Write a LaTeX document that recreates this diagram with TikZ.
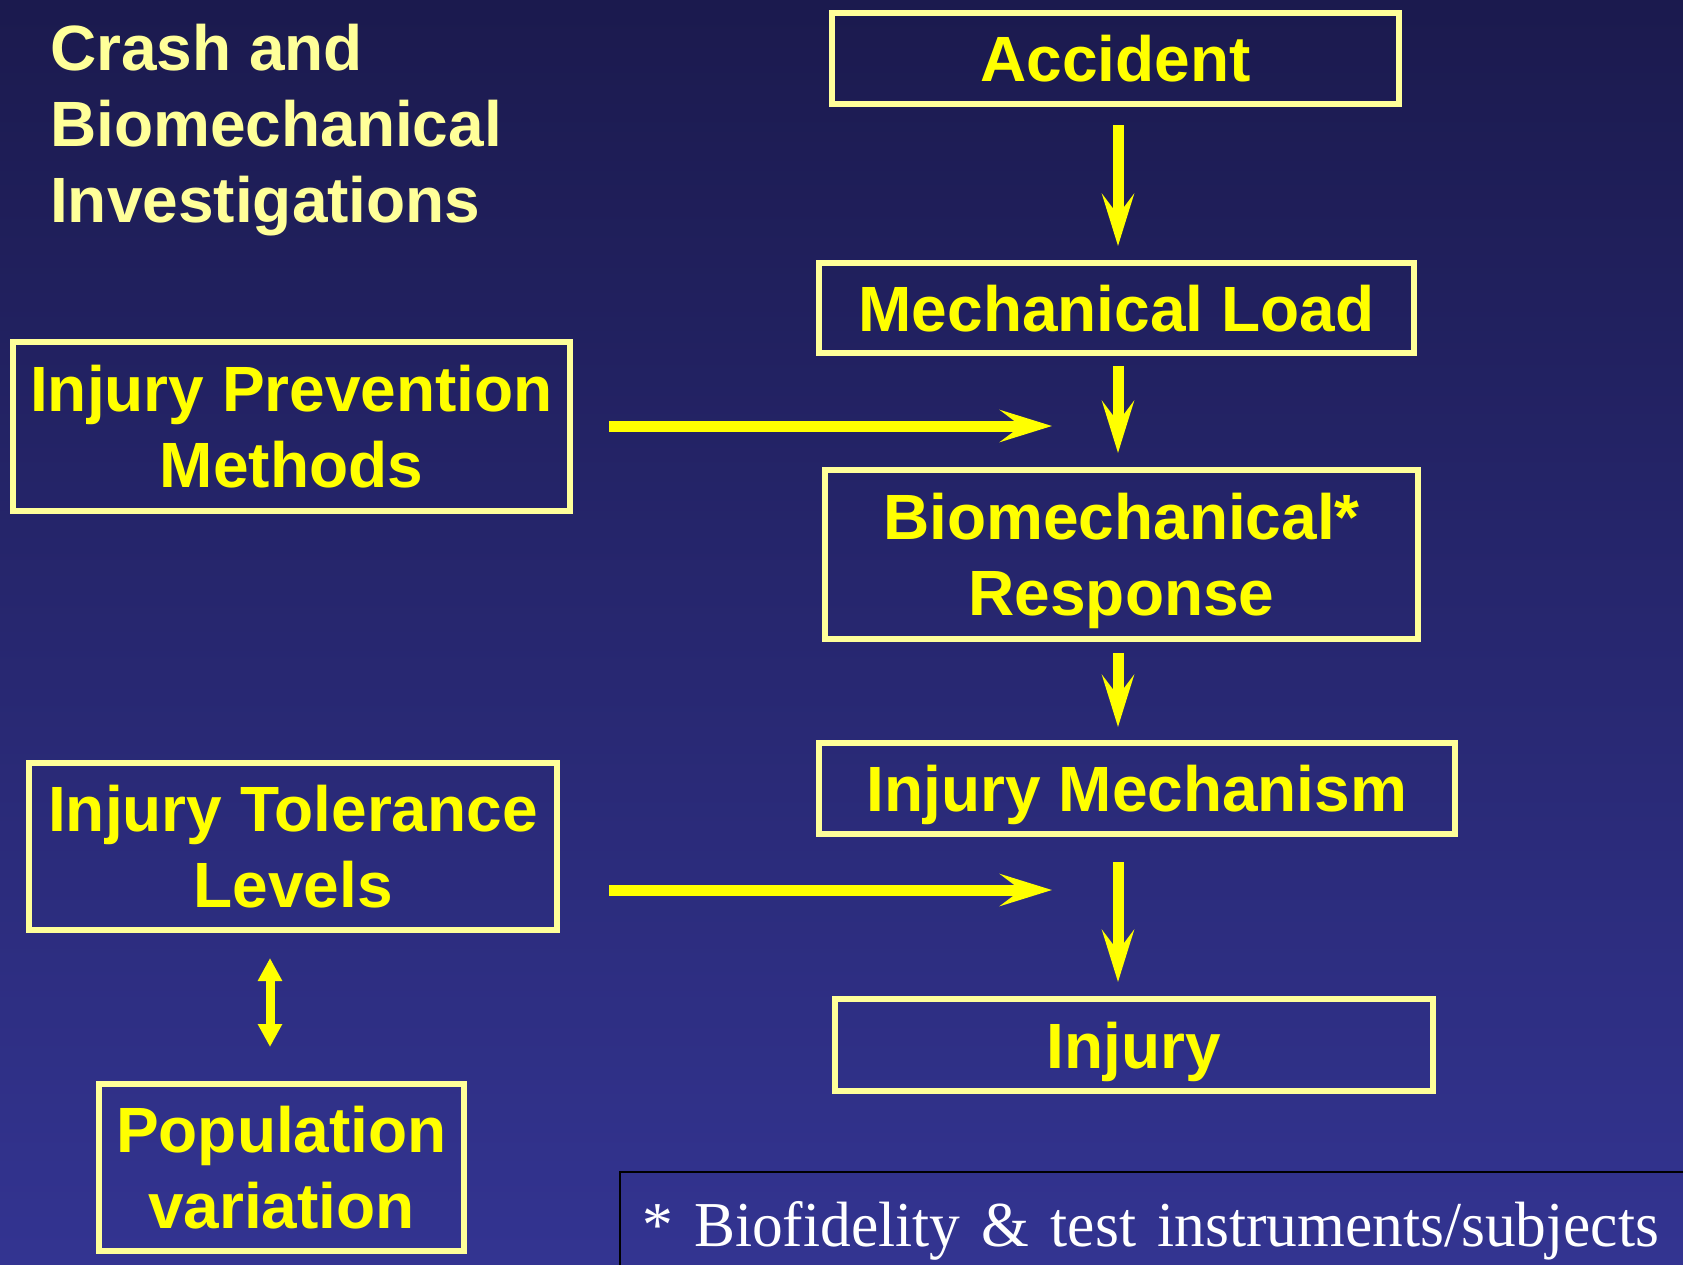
\documentclass[tikz,border=0pt]{standalone}
\usepackage{fontspec}
\setmainfont{Liberation Sans}
\newfontfamily\notefont[FakeStretch=0.96]{Liberation Serif}
\usetikzlibrary{arrows.meta, positioning}
\definecolor{bgtop}{RGB}{27,26,78}
\definecolor{bgbot}{RGB}{51,52,145}
\definecolor{paleyel}{RGB}{255,255,153}
\definecolor{brightyel}{RGB}{255,255,0}
\newcommand{\boxfont}{\fontsize{64}{76}\selectfont\bfseries}
\newcommand{\notesize}{\notefont\fontsize{64}{76}\selectfont}

\tikzset{
  stagebox/.style={draw=paleyel, line width=6pt, text=brightyel, font=\boxfont, align=center, inner sep=0pt, text depth=0pt},
  flowarrow/.style={draw=brightyel, line width=11pt, -{Stealth[length=52pt, width=32pt, inset=21pt]}},
  bothway/.style={draw=brightyel, line width=9pt, {Triangle[length=23pt, width=23pt]}-{Triangle[length=23pt, width=23pt]}},
}

\begin{document}
\begin{tikzpicture}[x=1pt, y=-1pt]
  % Hintergrund
  \useasboundingbox (0,0) rectangle (1683,1264);
  \clip (0,0) rectangle (1683,1264);
  \shade[top color=bgtop, bottom color=bgbot] (0,0) rectangle (1683,1264);

  \node[text=paleyel, font=\boxfont, align=left, anchor=north west, inner sep=0pt] (title) at (50,24) {Crash and\\Biomechanical\\Investigations};

  % Kette rechts
  \node[stagebox, minimum width=567, minimum height=91] (acc) at (1115.5,58.5) {Accident};
  \node[stagebox, minimum width=595, minimum height=90] (load) at (1116.5,308) {Mechanical Load};
  \node[stagebox, minimum width=593, minimum height=169] (resp) at (1121.5,554.5) {Biomechanical*\\Response};
  \node[stagebox, minimum width=636, minimum height=91] (mech) at (1137,788.5) {Injury Mechanism};
  \node[stagebox, minimum width=598, minimum height=92] (inj) at (1134,1045) {Injury};

  % Einfluesse links
  \node[stagebox, minimum width=557, minimum height=169] (prev) at (291.5,426.5) {Injury Prevention\\Methods};
  \node[stagebox, minimum width=528, minimum height=167] (tol) at (293,846.5) {Injury Tolerance\\Levels};
  \node[stagebox, minimum width=365, minimum height=167] (pop) at (281.5,1167.5) {Population\\variation};

  \node[draw=black, line width=2pt, anchor=north west, inner xsep=22pt, inner ysep=22pt, text width=1100, align=left, text height=52, text depth=16, text=white, font=\notesize] (note) at (619,1171) {* Biofidelity \& test instruments/subjects};

  \coordinate (spine) at (1118,0);
  \coordinate (prevtip) at (1052,426);
  \coordinate (toltip) at (1052,890);
  \coordinate (tolaxis) at (270,0);

  \draw[flowarrow, shorten <=18, shorten >=14] (acc.south -| spine) -- (load.north -| spine);
  \draw[flowarrow, shorten <=10, shorten >=14] (load.south -| spine) -- (resp.north -| spine);
  \draw[flowarrow, shorten <=11, shorten >=13] (resp.south -| spine) -- (mech.north -| spine);
  \draw[flowarrow, shorten <=25, shorten >=14] (mech.south -| spine) -- (inj.north -| spine);

  \draw[flowarrow, shorten <=36] (prev.east |- prevtip) -- (prevtip);
  \draw[flowarrow, shorten <=49] (tol.east |- toltip) -- (toltip);
  \draw[bothway, shorten <=25, shorten >=34] (tol.south -| tolaxis) -- (pop.north -| tolaxis);
\end{tikzpicture}
\end{document}
